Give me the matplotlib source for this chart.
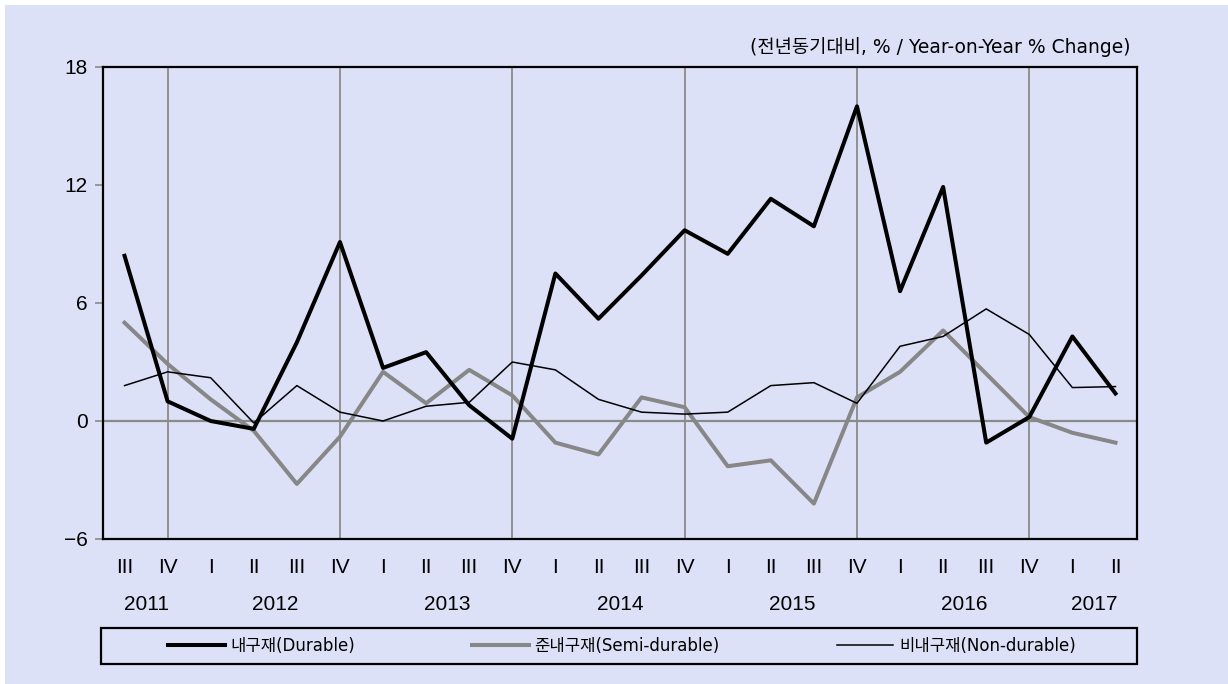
import matplotlib
matplotlib.use('Agg')
import matplotlib.pyplot as plt
from matplotlib.patches import Rectangle


# Quarterly data, 2011 Q3 .. 2017 Q2 (yoy % change)
quarters = ['III', 'IV', 'I', 'II', 'III', 'IV', 'I', 'II', 'III', 'IV', 'I', 'II',
            'III', 'IV', 'I', 'II', 'III', 'IV', 'I', 'II', 'III', 'IV', 'I', 'II']
years = ['2011', '2012', '2013', '2014', '2015', '2016', '2017']
year_pos = [0.5, 3.5, 7.5, 11.5, 15.5, 19.5, 22.5]
year_lines = [1, 5, 9, 13, 17, 21]

durable = [8.4, 1.0, 0.0, -0.4, 4.0, 9.1, 2.7, 3.5, 0.8, -0.9, 7.5, 5.2,
           7.4, 9.7, 8.5, 11.3, 9.9, 16.0, 6.6, 11.9, -1.1, 0.2, 4.3, 1.4]
semi_durable = [5.0, 2.9, 1.1, -0.5, -3.2, -0.8, 2.5, 0.9, 2.6, 1.3, -1.1, -1.7,
                1.2, 0.7, -2.3, -2.0, -4.2, 1.2, 2.5, 4.6, 2.4, 0.2, -0.6, -1.1]
non_durable = [1.8, 2.5, 2.2, -0.1, 1.8, 0.45, 0.0, 0.75, 0.95, 3.0, 2.6, 1.1,
               0.45, 0.35, 0.45, 1.8, 1.95, 0.9, 3.8, 4.3, 5.7, 4.4, 1.7, 1.75]

labels = ['내구재(Durable)', '준내구재(Semi-durable)', '비내구재(Non-durable)']
unit_text = '(전년동기대비, % / Year-on-Year % Change)'

BG = '#dde1f8'
W, H = 1228, 684


def main():
    plt.rcParams['font.family'] = ['DejaVu Sans', 'Noto Sans CJK KR']

    fig = plt.figure(figsize=(W / 100, H / 100), dpi=100, facecolor='white')
    # lavender panel with thin white margin at top/left
    fig.patches.append(Rectangle((5 / W, 0), 1 - 5 / W, 1 - 5 / H,
                                 transform=fig.transFigure, facecolor=BG,
                                 edgecolor='none', zorder=-10))

    ax = fig.add_axes([103 / W, 1 - 539 / H, (1137 - 103) / W, (539 - 67) / H])
    ax.set_facecolor(BG)

    x = list(range(len(quarters)))

    for xv in year_lines:
        ax.axvline(xv, color='#8a8a8a', lw=1.3, zorder=1)
    ax.axhline(0, color='#8a8a8a', lw=1.6, zorder=1)

    l1, = ax.plot(x, durable, color='black', lw=2.9, zorder=4)
    l2, = ax.plot(x, semi_durable, color='#878787', lw=2.9, zorder=3)
    l3, = ax.plot(x, non_durable, color='black', lw=1.1, zorder=5)

    ax.set_xlim(-0.5, 23.5)
    ax.set_ylim(-6, 18)
    ax.set_yticks([-6, 0, 6, 12, 18])
    ax.set_yticklabels(['\u22126', '0', '6', '12', '18'], family='Liberation Sans', fontsize=15)
    ax.tick_params(axis='y', direction='out', length=6, width=1.2, color='#8a8a8a', pad=5)

    ax.set_xticks(x)
    ax.set_xticklabels(quarters, family='Liberation Sans', fontsize=15)
    ax.tick_params(axis='x', length=0, pad=14)

    for yr, p in zip(years, year_pos):
        ax.text(p, -0.138, yr, transform=ax.get_xaxis_transform(), ha='center', va='center',
                family='Liberation Sans', fontsize=15)

    for s in ax.spines.values():
        s.set_linewidth(1.6)
        s.set_color('black')

    fig.text(1130 / W, 1 - 47 / H, unit_text, ha='right', va='center', fontsize=13.5)

    # legend frame + entries
    fig.patches.append(Rectangle((101 / W, 1 - 664 / H), (1137 - 101) / W, (664 - 628) / H,
                                 transform=fig.transFigure, facecolor='none',
                                 edgecolor='black', lw=1.6))
    fig.legend([l1, l2, l3], labels, loc='center', bbox_to_anchor=(622 / W, 1 - 646 / H),
               ncol=3, frameon=False, fontsize=12, handlelength=3.4, handletextpad=0.35,
               columnspacing=7.0)

    fig.savefig('out.png', dpi=100, facecolor='white')


if __name__ == '__main__':
    main()
